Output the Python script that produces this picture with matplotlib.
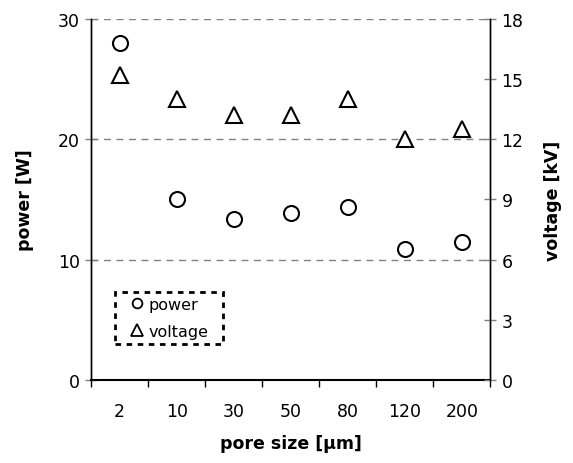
import matplotlib.pyplot as plt
from matplotlib.lines import Line2D

pore_size = ['2', '10', '30', '50', '80', '120', '200']
power = [28, 15, 13.4, 13.9, 14.4, 10.9, 11.5]
voltage = [15.2, 14.0, 13.2, 13.2, 14.0, 12.0, 12.5]

plt.rcParams['font.family'] = 'DejaVu Sans'

fig = plt.figure(figsize=(5.73, 4.64), dpi=100)
ax = fig.add_axes([0.159, 0.179, 0.697, 0.778])
ax2 = ax.twinx()

x = list(range(len(pore_size)))
ax.plot(x, power, ls='none', marker='o', ms=10.8, mfc='white', mec='black', mew=1.5, zorder=3)
ax2.plot(x, voltage, ls='none', marker='^', ms=11.8, mfc='white', mec='black', mew=1.5, zorder=3)

ax.set_xlim(-0.5, len(pore_size) - 0.5)
ax.set_ylim(0, 30)
ax2.set_ylim(0, 18)
ax.set_yticks([0, 10, 20, 30])
ax2.set_yticks([0, 3, 6, 9, 12, 15, 18])

ax.set_xticks(x)
ax.set_xticklabels(pore_size)
ax.set_xticks([i - 0.5 for i in range(len(pore_size) + 1)], minor=True)
ax.tick_params(axis='x', which='major', length=0, pad=16, labelsize=12.5)
ax.tick_params(axis='x', which='minor', length=5, width=1, direction='out', color='black')
ax.tick_params(axis='y', direction='inout', length=8, width=1, color='gray', labelsize=12.5, pad=4)
ax2.tick_params(axis='y', direction='inout', length=8, width=1, color='gray', labelsize=12.5, pad=4)

for y in [10, 20, 30]:
    ax.axhline(y, color='gray', ls=(0, (5, 4)), lw=1, zorder=1)

for a in (ax, ax2):
    a.spines['top'].set_visible(False)
    a.spines['left'].set_linewidth(1)
    a.spines['right'].set_linewidth(1)
ax.spines['bottom'].set_linewidth(1.5)
ax2.spines['bottom'].set_visible(False)

ax.set_xlabel('pore size [µm]', fontsize=12.5, fontweight='bold', labelpad=10)
ax.set_ylabel('power [W]', fontsize=12.5, fontweight='bold', labelpad=17)
ax2.set_ylabel('voltage [kV]', fontsize=12.5, fontweight='bold', labelpad=15)

handles = [
    Line2D([], [], ls='none', marker='o', ms=7, mfc='white', mec='black', mew=1.3),
    Line2D([], [], ls='none', marker='^', ms=9, mfc='white', mec='black', mew=1.3),
]
leg = ax2.legend(handles, ['power', 'voltage'], loc='lower left',
                 bbox_to_anchor=(0.06, 0.1, 0.27, 0.15), mode='expand',
                 fontsize=11.5, handlelength=2.1, handletextpad=-0.36,
                 borderpad=0.33, labelspacing=0.72,
                 borderaxespad=0, fancybox=False, framealpha=1)
frame = leg.get_frame()
frame.set_edgecolor('black')
frame.set_linewidth(2)
frame.set_linestyle((0, (2, 2)))

fig.savefig('out.png', dpi=100)
